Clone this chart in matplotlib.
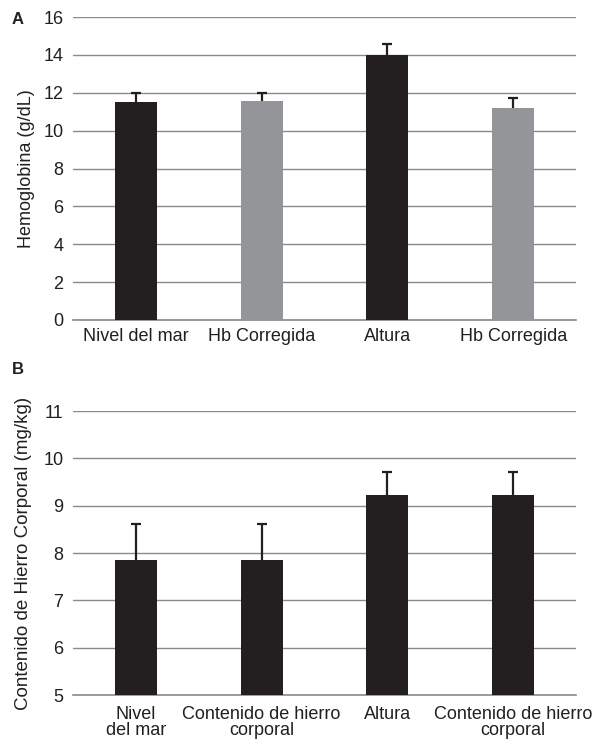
import matplotlib
matplotlib.use("Agg")
import matplotlib.pyplot as plt
import numpy as np

plt.rcParams['font.family'] = ['Liberation Sans', 'DejaVu Sans']

# Panel A: hemoglobin
hb_categories = ["Nivel del mar", "Hb Corregida", "Altura", "Hb Corregida"]
hb_values = [11.5, 11.55, 14.0, 11.2]
hb_errors = [0.5, 0.45, 0.55, 0.5]

# Panel B: body iron content
fe_categories = ["Nivel\ndel mar", "Contenido de hierro\ncorporal", "Altura",
                 "Contenido de hierro\ncorporal"]
fe_values = [7.85, 7.85, 9.23, 9.23]
fe_errors = [0.77, 0.77, 0.49, 0.49]

DARK = "#231f20"
GRAY = "#939598"
GRID = "#8a8a8a"

fig = plt.figure(figsize=(5.93, 7.42), dpi=100)
axA = fig.add_axes([73/593, 1 - 320/742, 503/593, 303/742])
axB = fig.add_axes([73/593, 1 - 695/742, 503/593, 284/742])


def style(ax, ymin, ymax, step):
    ax.set_ylim(ymin, ymax)
    ax.set_xlim(-0.5, 3.5)
    ax.set_yticks(np.arange(ymin, ymax + 0.01, step))
    ax.yaxis.grid(True, color=GRID, linewidth=1.0)
    ax.set_axisbelow(True)
    for s in ax.spines.values():
        s.set_visible(False)
    ax.axhline(ymin, color=GRID, linewidth=1.2, clip_on=False, zorder=1)
    ax.tick_params(axis='both', length=0, labelsize=13, colors='#231f20')
    ax.tick_params(axis='y', pad=7)


def upper_errorbars(ax, xs, vals, errs):
    # one-sided error bars with a cap only at the upper end
    _, caps, _ = ax.errorbar(xs, vals, yerr=[np.zeros(len(errs)), errs], fmt='none',
                             ecolor=DARK, elinewidth=1.6, capsize=3.5,
                             capthick=1.6, zorder=3)
    caps[0].set_visible(False)


x = np.arange(len(hb_values))
axA.bar(x, hb_values, width=0.335, color=[DARK, GRAY, DARK, GRAY], zorder=2)
upper_errorbars(axA, x, hb_values, hb_errors)
style(axA, 0, 16, 2)
axA.set_xticks(x)
axA.set_xticklabels(hb_categories)
axA.tick_params(axis='x', pad=6)
axA.set_ylabel("Hemoglobina (g/dL)", fontsize=13, color='#231f20', labelpad=6)

x2 = np.arange(len(fe_values))
axB.bar(x2, np.array(fe_values) - 5, bottom=5, width=0.335, color=DARK, zorder=2)
upper_errorbars(axB, x2, fe_values, fe_errors)
style(axB, 5, 11, 1)
axB.set_xticks(x2)
axB.set_xticklabels(fe_categories, linespacing=0.88, va='top')
axB.tick_params(axis='x', pad=8)
axB.set_ylabel("Contenido de Hierro Corporal (mg/kg)", fontsize=13.5,
               color='#231f20', labelpad=8)

fig.text(12/593, 1 - 20/742, "A", fontsize=12, fontweight='bold', va='center',
         color='#231f20')
fig.text(12/593, 1 - 369/742, "B", fontsize=12, fontweight='bold', va='center',
         color='#231f20')

fig.savefig("out.png", dpi=100)
